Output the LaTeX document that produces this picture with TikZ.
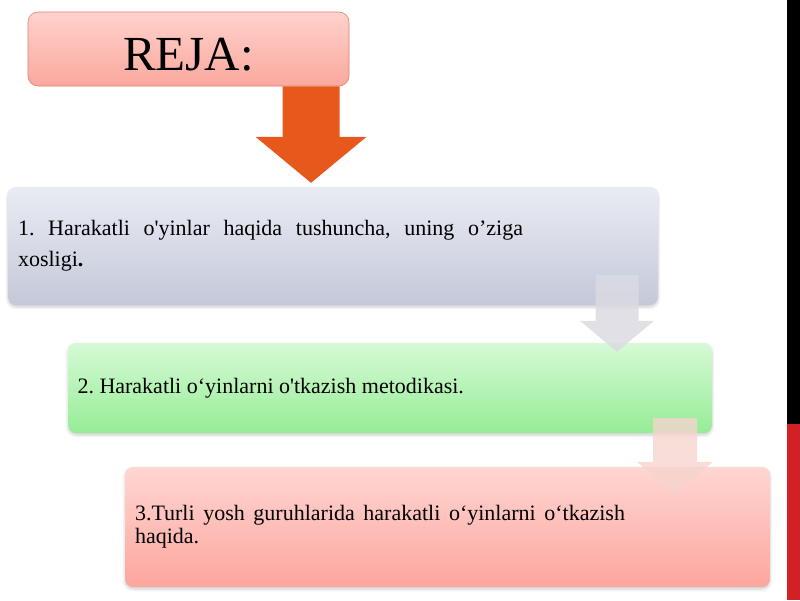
\documentclass[tikz,border=0pt]{standalone}
\usepackage{fontspec}
\setmainfont{Liberation Serif}[Ligatures=TeXOff]
\usepackage{tikz}
\usetikzlibrary{calc,positioning,shadows.blur}
\tikzset{>=latex}
\hyphenpenalty=10000
\exhyphenpenalty=10000
\frenchspacing

\definecolor{arroworange}{RGB}{230,88,28}
\definecolor{arrowgray}{RGB}{218,218,226}
\definecolor{arrowpink}{RGB}{246,212,206}
\definecolor{barred}{RGB}{210,32,36}
\definecolor{titletop}{RGB}{255,210,204}
\definecolor{titlebot}{RGB}{250,168,158}
\definecolor{titleline}{RGB}{222,128,116}
\definecolor{bluetop}{RGB}{234,236,244}
\definecolor{bluebot}{RGB}{196,200,216}
\definecolor{greentop}{RGB}{214,250,214}
\definecolor{greenbot}{RGB}{150,236,150}
\definecolor{pinktop}{RGB}{255,214,210}
\definecolor{pinkbot}{RGB}{252,166,158}

% block arrow: colour, top, tip, shaft half width, head half width, head length
\newcommand{\blockarrow}[6]{%
\fill[#1] ($(#2)+(-#4,0)$) -- ($(#3)+(-#4,-#6)$) -- ($(#3)+(-#5,-#6)$) -- (#3)
  -- ($(#3)+(#5,-#6)$) -- ($(#3)+(#4,-#6)$) -- ($(#2)+(#4,0)$) -- cycle;}
% justified paragraph inside a ragged node
\newcommand{\planpar}[2]{\parbox{#1}{\spaceskip=0pt\xspaceskip=0pt\rightskip=0pt
  \parfillskip=0pt plus 1fil\relax #2}}

\tikzset{
  titlebox/.style={draw=titleline, line width=0.6pt, rounded corners=10pt,
    top color=titletop, bottom color=titlebot, minimum width=321pt,
    minimum height=74pt, inner sep=0pt, text height=42pt, text depth=0pt,
    font=\fontsize{49}{49}\selectfont},
  planbox/.style={rounded corners=8pt, inner xsep=10pt, inner ysep=0pt, align=left,
    blur shadow={shadow xshift=0pt, shadow yshift=-2pt, shadow blur radius=3pt, shadow opacity=20},
    font=\fontsize{22}{31}\selectfont},
}

\begin{document}
\begin{tikzpicture}[x=1pt,y=-1pt]
\useasboundingbox (0,0) rectangle (800,600);

% Side bar
\fill[black]  (787,0)   rectangle (800,424);
\fill[barred] (787,424) rectangle (800,600);

% Title
\node[titlebox] (reja) at (188.5,49) {REJA:};

% Plan items
\node[planbox, top color=bluetop, bottom color=bluebot, text width=630pt, minimum height=118pt] (item1) at (333,246)
  {\planpar{505pt}{1. Harakatli o'yinlar haqida tushuncha, uning o’ziga xosligi\textbf{.}}};
\node[planbox, top color=greentop, bottom color=greenbot, text width=625pt, inner xsep=9.5pt, minimum height=90pt] (item2) at (390,388)
  {\planpar{600pt}{2. Harakatli o‘yinlarni o'tkazish metodikasi.}};
\node[planbox, top color=pinktop, bottom color=pinkbot, text width=625pt, minimum height=120pt,
  font=\fontsize{22}{23}\selectfont] (item3) at (447.5,527)
  {\raisebox{-3pt}{\planpar{490pt}{3.Turli yosh guruhlarida harakatli o‘yinlarni o‘tkazish haqida.}}};

% Arrows
\coordinate (a1top) at (311,0 |- reja.south);
\coordinate (a1tip) at ($(311,0 |- item1.north)+(0,-4)$);
\coordinate (a2top) at ($(617,0 |- item1.south)+(0,-30)$);
\coordinate (a2tip) at ($(617,0 |- item2.north)+(0,9)$);
\coordinate (a3top) at ($(675,0 |- item2.south)+(0,-15)$);
\coordinate (a3tip) at ($(675,0 |- item3.north)+(0,28)$);

\blockarrow{arroworange}{a1top}{a1tip}{28.5}{55.5}{46}
\blockarrow{arrowgray, opacity=0.85}{a2top}{a2tip}{21.5}{37}{31}
\blockarrow{arrowpink, opacity=0.8}{a3top}{a3tip}{22}{38}{33}

\end{tikzpicture}
\end{document}
